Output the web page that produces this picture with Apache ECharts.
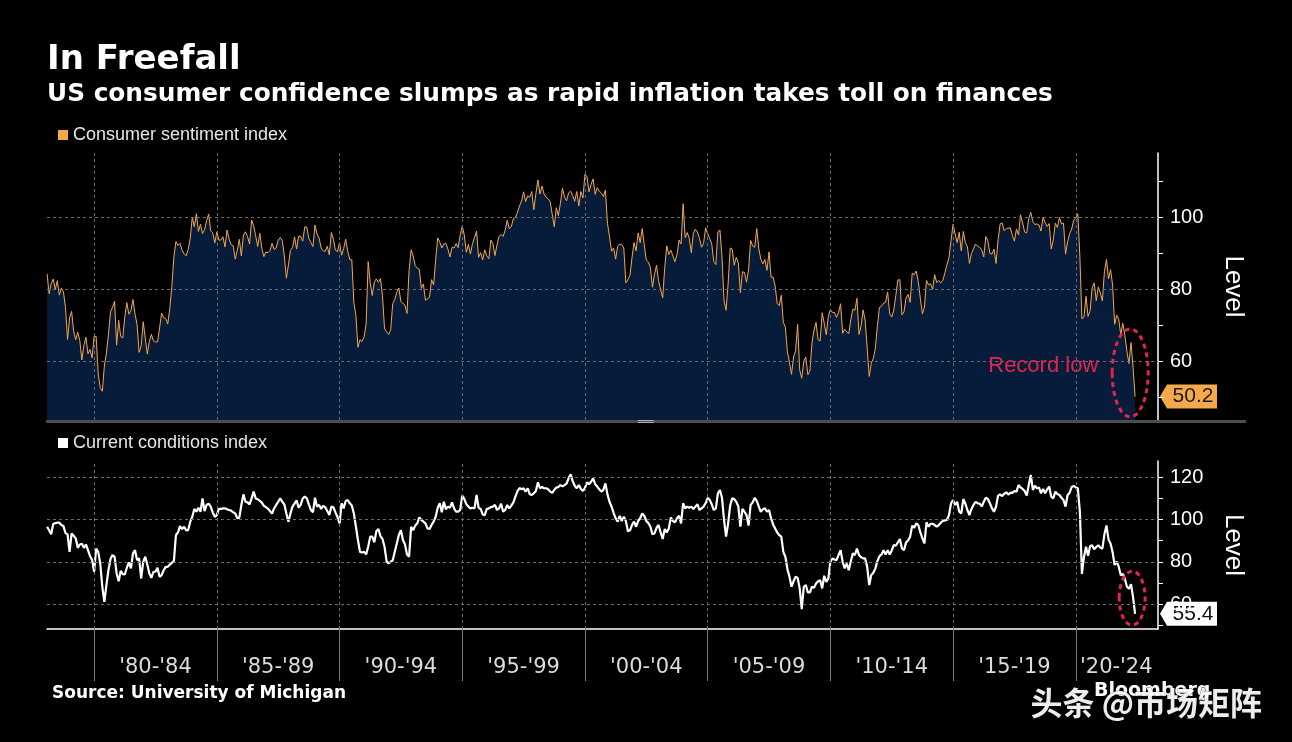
<!DOCTYPE html>
<html><head><meta charset="utf-8">
<script src="https://cdn.jsdelivr.net/npm/echarts@6/dist/echarts.min.js"></script>
<style>html,body{margin:0;padding:0;background:#000;}#c{width:1292px;height:742px;}</style>
</head><body><div id="c"></div>
<script>
// Monthly series, first value = Feb 1978, last value = Jun 2022
const startYear = 1978;
const startMonth = 2;

const sentiment = [
  84.3, 78.8, 81.6, 82.9, 80.0, 82.4, 78.4, 80.4, 79.3, 75.0, 66.1,
  72.1, 73.9, 68.4, 66.0, 68.1, 65.8, 60.4, 64.5, 66.7, 62.1, 63.3, 61.0,
  67.0, 66.9, 56.5, 52.7, 51.7, 58.7, 62.3, 67.4, 73.7, 75.0, 76.7, 64.5,
  71.4, 66.9, 66.5, 72.4, 76.3, 73.1, 74.1, 77.2, 73.1, 70.3, 62.5, 64.3,
  71.0, 66.5, 62.0, 65.5, 67.5, 65.7, 65.4, 65.4, 69.3, 73.4, 72.1, 71.9,
  70.4, 74.6, 80.8, 89.1, 93.3, 92.2, 92.8, 90.9, 89.9, 89.3, 91.1, 94.2,
  100.1, 97.4, 101.0, 96.1, 98.1, 95.5, 96.6, 99.1, 100.9, 96.3, 95.7, 92.9,
  96.0, 93.7, 93.7, 94.6, 91.8, 96.5, 94.0, 92.4, 92.1, 88.4, 90.9, 93.9,
  89.3, 95.1, 96.0, 94.7, 92.6, 99.3, 97.7, 94.9, 91.9, 95.6, 91.4, 89.1,
  90.4, 90.2, 90.8, 92.8, 91.1, 91.5, 93.7, 94.4, 93.6, 89.3, 83.1, 86.8,
  90.8, 91.6, 94.6, 91.2, 94.8, 94.7, 93.4, 97.4, 97.3, 94.1, 93.0, 91.9,
  97.9, 95.4, 94.3, 91.5, 90.7, 90.6, 92.0, 89.6, 95.8, 93.9, 90.9, 90.5,
  93.0, 89.5, 91.3, 93.9, 90.6, 88.3, 88.2, 76.4, 72.8, 63.9, 66.0, 65.5,
  66.8, 70.4, 87.7, 81.8, 78.3, 82.1, 82.9, 82.0, 83.0, 78.3, 69.1, 68.2,
  67.5, 68.8, 76.0, 77.2, 79.2, 80.4, 76.6, 76.1, 75.6, 73.3, 85.3, 91.0,
  89.3, 86.6, 85.9, 85.6, 80.3, 81.5, 77.0, 77.3, 77.9, 82.7, 81.2, 88.2,
  94.3, 93.2, 91.5, 92.6, 92.8, 91.2, 89.0, 91.7, 91.5, 92.7, 91.6, 95.1,
  97.6, 95.1, 90.3, 92.5, 89.8, 92.7, 94.4, 96.2, 88.9, 90.2, 88.2, 91.0,
  89.3, 88.5, 93.7, 92.7, 89.4, 92.4, 94.7, 95.3, 94.7, 96.5, 99.2, 96.9,
  97.4, 99.7, 100.0, 101.4, 103.2, 104.5, 107.1, 104.4, 106.0, 105.6, 107.2, 102.1,
  106.6, 110.4, 106.5, 108.7, 106.5, 105.6, 105.2, 104.4, 100.9, 97.4, 102.7, 100.5,
  103.9, 108.1, 105.7, 104.6, 106.8, 107.3, 106.0, 104.5, 107.2, 103.2, 107.2, 105.4,
  112.0, 111.3, 107.1, 109.2, 110.7, 106.4, 108.3, 107.3, 106.8, 105.8, 107.6, 98.4,
  94.7, 90.6, 91.5, 88.4, 92.0, 92.6, 92.4, 91.5, 81.8, 82.7, 83.9, 88.8,
  93.0, 90.7, 95.7, 93.0, 96.9, 92.4, 88.1, 87.6, 86.1, 80.6, 84.2, 86.7,
  82.4, 79.9, 77.6, 86.0, 92.1, 89.7, 90.9, 89.3, 87.7, 89.6, 93.7, 92.6,
  103.8, 94.4, 95.8, 94.2, 90.2, 95.6, 96.7, 95.9, 94.2, 91.7, 92.8, 97.1,
  95.5, 94.1, 92.6, 87.7, 86.9, 96.0, 96.5, 89.1, 76.9, 74.2, 81.6, 91.5,
  91.2, 86.7, 88.9, 87.4, 79.1, 84.9, 84.7, 82.0, 85.4, 93.6, 92.1, 91.7,
  96.9, 91.3, 88.4, 87.1, 88.3, 85.3, 90.4, 83.4, 83.4, 80.9, 76.1, 75.5,
  78.4, 70.8, 69.5, 62.6, 59.8, 56.4, 61.2, 63.0, 70.3, 57.6, 55.3, 60.1,
  61.2, 56.3, 57.3, 65.1, 68.7, 70.8, 66.0, 65.7, 73.5, 70.6, 67.4, 72.5,
  74.4, 73.6, 73.6, 72.2, 73.6, 76.0, 67.8, 68.9, 68.2, 67.7, 71.6, 74.5,
  74.2, 77.5, 67.5, 69.8, 74.3, 71.5, 63.7, 55.8, 59.5, 60.8, 63.7, 69.9,
  75.0, 75.3, 76.2, 76.4, 79.3, 73.2, 72.3, 74.3, 78.3, 82.6, 82.7, 72.9,
  73.8, 77.6, 78.6, 76.4, 84.5, 84.1, 85.1, 82.1, 77.5, 73.2, 75.1, 82.5,
  81.2, 81.6, 80.0, 84.1, 81.9, 82.5, 81.8, 82.5, 84.6, 86.9, 88.8, 93.6,
  98.1, 95.4, 93.0, 95.9, 90.7, 96.1, 93.1, 91.9, 87.2, 90.0, 91.3, 92.6,
  92.0, 91.7, 91.0, 89.0, 94.7, 93.5, 90.0, 89.8, 91.2, 87.2, 93.8, 98.2,
  98.5, 96.3, 96.9, 97.0, 97.1, 95.0, 93.4, 96.8, 95.1, 100.7, 98.5, 95.9,
  95.7, 99.7, 101.4, 98.8, 98.0, 98.2, 97.9, 96.2, 100.1, 98.6, 97.5, 98.3,
  91.2, 93.8, 98.4, 97.2, 100.0, 98.2, 98.4, 89.8, 93.2, 95.5, 96.8, 99.3,
  99.8, 101.0, 89.1, 71.8, 72.3, 78.1, 72.5, 74.1, 80.4, 81.8, 76.9, 80.7,
  79.0, 76.8, 84.9, 88.3, 82.9, 85.5, 81.2, 70.3, 72.8, 71.7, 67.4, 70.6,
  67.2, 62.8, 59.4, 65.2, 58.4, 50.2
];

const currentConditions = [
  96.6, 94.9, 93.0, 97.9, 98.3, 98.5, 98.5, 97.4, 96.9, 93.6, 93.0,
  84.7, 93.4, 92.3, 91.1, 86.6, 88.2, 88.5, 86.6, 88.2, 85.5, 82.7, 80.8,
  75.3, 86.2, 84.7, 79.2, 68.2, 61.0, 69.0, 76.0, 81.3, 83.2, 82.4, 74.5,
  70.8, 75.7, 74.2, 74.0, 77.2, 79.7, 76.9, 84.0, 85.5, 80.8, 81.6, 72.1,
  80.0, 82.4, 78.7, 74.5, 72.4, 75.3, 75.3, 77.2, 72.9, 73.7, 76.0, 77.6,
  77.6, 78.7, 79.5, 80.3, 92.7, 93.9, 96.9, 95.5, 96.6, 94.9, 95.0, 99.0,
  101.3, 105.0, 103.7, 105.6, 103.7, 110.0, 104.0, 106.9, 107.5, 106.1, 103.4, 101.3,
  102.1, 105.0, 105.0, 105.3, 105.3, 104.8, 104.5, 104.2, 103.4, 102.9, 100.6, 100.9,
  106.9, 111.9, 108.4, 108.1, 107.2, 110.0, 113.2, 110.0, 109.6, 108.8, 108.0, 106.5,
  105.9, 105.1, 104.0, 102.8, 105.3, 106.9, 108.4, 110.0, 108.4, 107.2, 102.9, 99.0,
  102.9, 106.1, 107.5, 109.1, 105.6, 106.9, 110.0, 110.8, 110.0, 107.2, 104.5, 103.4,
  110.3, 106.1, 106.9, 105.0, 106.5, 105.8, 104.0, 102.1, 106.1, 105.8, 103.4, 101.2,
  98.2, 107.7, 105.3, 108.8, 109.2, 107.7, 106.6, 102.9, 96.6, 90.3, 84.7, 84.4,
  84.7, 83.5, 87.1, 91.9, 91.9, 89.2, 94.5, 95.5, 92.2, 90.8, 87.1, 80.3,
  79.2, 80.0, 80.6, 84.7, 88.7, 92.7, 95.0, 90.3, 88.2, 83.5, 82.4, 96.6,
  95.0, 97.1, 98.2, 101.0, 99.8, 99.0, 98.2, 95.8, 95.5, 97.4, 99.0, 101.3,
  105.6, 107.7, 103.4, 108.4, 104.8, 106.1, 105.6, 108.1, 105.3, 103.7, 103.7, 104.5,
  111.3, 109.7, 107.3, 106.1, 105.3, 105.6, 105.3, 111.6, 105.6, 105.0, 102.4, 102.1,
  105.0, 105.3, 105.9, 106.1, 106.9, 104.5, 105.3, 107.5, 103.7, 104.5, 106.9, 105.3,
  106.6, 108.1, 110.8, 113.5, 114.9, 114.3, 114.8, 113.2, 114.8, 112.0, 111.6, 112.4,
  113.5, 117.6, 114.8, 115.4, 114.8, 114.8, 114.3, 113.2, 112.6, 114.1, 115.1, 115.4,
  116.3, 115.7, 116.3, 117.0, 119.5, 121.4, 118.2, 116.0, 114.8, 116.3, 114.5, 113.5,
  115.0, 117.6, 116.7, 117.9, 119.5, 116.7, 115.6, 114.3, 113.2, 114.0, 117.1, 111.9,
  108.4, 106.1, 103.2, 100.6, 99.0, 101.7, 99.3, 101.3, 99.3, 94.5, 94.9, 97.4,
  99.0, 96.6, 99.3, 100.6, 102.9, 101.8, 99.3, 98.3, 96.6, 93.1, 93.4, 96.1,
  97.4, 93.9, 90.8, 95.5, 93.9, 95.8, 101.0, 99.3, 98.7, 100.6, 101.8, 98.2,
  107.7, 105.3, 106.1, 105.6, 106.1, 105.0, 106.1, 107.2, 104.5, 105.3, 106.1, 107.7,
  110.3, 109.2, 107.2, 104.5, 105.3, 112.4, 114.0, 110.3, 99.8, 91.9, 98.2, 106.6,
  110.0, 109.7, 108.4, 106.1, 96.6, 105.0, 103.7, 102.1, 97.1, 106.9, 108.1, 110.3,
  108.8, 106.1, 103.7, 104.8, 105.3, 103.7, 104.5, 100.6, 97.7, 95.8, 93.9, 92.6,
  91.9, 84.7, 82.4, 76.5, 72.9, 68.2, 70.8, 72.9, 72.4, 67.4, 57.6, 68.2,
  69.0, 65.5, 65.5, 68.2, 67.7, 69.7, 70.8, 71.3, 67.4, 73.4, 70.5, 72.1,
  80.0, 81.6, 81.1, 80.8, 83.2, 85.5, 80.0, 76.9, 79.2, 76.0, 80.3, 84.0,
  83.2, 86.3, 83.2, 82.2, 81.6, 81.6, 77.6, 69.0, 73.7, 74.8, 76.9, 80.3,
  82.7, 83.5, 85.5, 83.5, 85.5, 83.5, 85.4, 87.9, 87.6, 89.2, 90.8, 86.3,
  85.5, 89.2, 90.1, 91.9, 97.1, 96.1, 98.2, 97.4, 93.9, 91.1, 88.7, 98.7,
  96.6, 98.0, 98.0, 97.4, 96.6, 97.4, 98.5, 99.3, 99.6, 99.8, 102.1, 107.7,
  109.2, 106.9, 108.4, 103.7, 102.9, 109.7, 107.5, 104.5, 102.1, 105.0, 106.9, 108.4,
  107.7, 107.5, 106.2, 108.4, 110.3, 109.7, 107.7, 105.3, 103.7, 106.1, 111.3, 111.9,
  111.1, 112.2, 112.9, 111.8, 112.7, 112.6, 113.5, 113.2, 116.3, 115.2, 114.5, 113.5,
  111.3, 116.3, 121.1, 114.0, 116.0, 114.8, 115.2, 112.4, 114.5, 112.4, 114.3, 115.6,
  110.8, 110.0, 113.2, 112.1, 111.6, 110.3, 109.2, 106.1, 111.6, 112.7, 115.4, 115.9,
  115.2, 114.8, 103.7, 74.3, 82.3, 87.1, 82.8, 87.5, 87.8, 85.9, 87.0, 87.8,
  86.7, 86.2, 93.0, 97.2, 90.6, 88.6, 84.5, 78.5, 80.1, 77.7, 73.6, 74.2,
  72.0, 68.2, 67.2, 69.4, 63.3, 55.4
];

const gridYears = [1980, 1985, 1990, 1995, 2000, 2005, 2010, 2015, 2020];
const periodLabels = ["'80-'84", "'85-'89", "'90-'94", "'95-'99", "'00-'04", "'05-'09", "'10-'14", "'15-'19", "'20-'24"];
const periodLabelAt = [1982.5, 1987.5, 1992.5, 1997.5, 2002.5, 2007.5, 2012.5, 2017.5, 2021.65];
const topTicks = [50, 60, 70, 80, 90, 100, 110];
const topLabels = [60, 80, 100];
const bottomTicks = [50, 60, 70, 80, 90, 100, 110, 120];
const bottomLabels = [60, 80, 100, 120];

const X_MIN = 1978.08, X_MAX = 2023.35;
const TOP_MIN = 43.7, TOP_MAX = 117.9;
const BOT_MIN = 48.2, BOT_MAX = 127.7;

const xOf = i => startYear + (startMonth - 1 + i) / 12;
const sentData = sentiment.map((v, i) => [xOf(i), v]);
const ccData = currentConditions.map((v, i) => [xOf(i), v]);

const ORANGE = '#f4a84b';
const NAVY = '#061c3a';
const GRID_LINE = { type: [3, 3], color: '#6b6b6b', width: 1 };

function gridMarks(hVals) {
  return {
    silent: true, symbol: ['none', 'none'], animation: false,
    label: { show: false }, lineStyle: GRID_LINE, emphasis: { disabled: true },
    data: gridYears.map(v => ({ xAxis: v })).concat(hVals.map(v => ({ yAxis: v })))
  };
}

const chart = echarts.init(document.getElementById('c'), null, { renderer: 'canvas' });
const labelFont = 'Liberation Sans, Arial, sans-serif';

chart.setOption({
  backgroundColor: '#000',
  animation: false,
  grid: [
    { left: 47, right: 134, top: 153, height: 267 },
    { left: 47, right: 134, top: 461, height: 168 }
  ],
  legend: [
    { data: ['Consumer sentiment index'], left: 53, top: 121, icon: 'rect', itemWidth: 10, itemHeight: 10,
      selectedMode: false, textStyle: { color: '#e6e6e6', fontSize: 18, fontFamily: labelFont } },
    { data: ['Current conditions index'], left: 53, top: 429, icon: 'rect', itemWidth: 10, itemHeight: 10,
      selectedMode: false, textStyle: { color: '#e6e6e6', fontSize: 18, fontFamily: labelFont } }
  ],
  xAxis: [
    { gridIndex: 0, type: 'value', min: X_MIN, max: X_MAX, show: false, splitLine: { show: false } },
    { gridIndex: 1, type: 'value', min: X_MIN, max: X_MAX,
      axisLine: { show: true, onZero: false, lineStyle: { color: '#fff', width: 1.5 } },
      axisTick: { show: true, customValues: gridYears, length: 52, lineStyle: { color: '#7a7a7a', width: 1 } },
      axisLabel: { show: true, customValues: periodLabelAt, margin: 28, color: '#dcdcdc', fontSize: 21,
        fontFamily: 'DejaVu Sans, sans-serif',
        formatter: v => periodLabels[gridYears.indexOf(Math.floor(v / 5) * 5)] || '' },
      splitLine: { show: false } }
  ],
  yAxis: [
    { gridIndex: 0, type: 'value', position: 'right', min: TOP_MIN, max: TOP_MAX,
      axisLine: { show: true, lineStyle: { color: '#fff', width: 1.5 } },
      axisTick: { show: true, customValues: topTicks, length: 5, lineStyle: { color: '#fff' } },
      axisLabel: { show: true, customValues: topLabels, color: '#fff', fontSize: 20, margin: 12, fontFamily: labelFont },
      splitLine: { show: false },
      name: 'Level', nameLocation: 'middle', nameRotate: -90, nameGap: 62,
      nameTextStyle: { color: '#fff', fontSize: 26, fontFamily: labelFont } },
    { gridIndex: 1, type: 'value', position: 'right', min: BOT_MIN, max: BOT_MAX,
      axisLine: { show: true, lineStyle: { color: '#fff', width: 1.5 } },
      axisTick: { show: true, customValues: bottomTicks, length: 5, lineStyle: { color: '#fff' } },
      axisLabel: { show: true, customValues: bottomLabels, color: '#fff', fontSize: 20, margin: 12, fontFamily: labelFont },
      splitLine: { show: false },
      name: 'Level', nameLocation: 'middle', nameRotate: -90, nameGap: 62,
      nameTextStyle: { color: '#fff', fontSize: 26, fontFamily: labelFont } }
  ],
  series: [
    { name: 'Consumer sentiment index', type: 'line', xAxisIndex: 0, yAxisIndex: 0, data: sentData,
      showSymbol: false, color: ORANGE, lineStyle: { color: ORANGE, width: 1 },
      areaStyle: { color: NAVY, opacity: 1, origin: 'start' }, z: 2,
      markLine: gridMarks(topLabels) },
    { name: 'Current conditions index', type: 'line', xAxisIndex: 1, yAxisIndex: 1, data: ccData,
      showSymbol: false, color: '#ffffff', lineStyle: { color: '#ffffff', width: 2.2 }, z: 3,
      markLine: gridMarks(bottomLabels) }
  ]
});

// Annotations placed through the chart's own scales
const lastT = xOf(sentiment.length - 1);
const topTag = chart.convertToPixel({ gridIndex: 0 }, [X_MAX, sentiment[sentiment.length - 1]]);
const botTag = chart.convertToPixel({ gridIndex: 1 }, [X_MAX, currentConditions[currentConditions.length - 1]]);
const topEll = chart.convertToPixel({ gridIndex: 0 }, [lastT - 0.2, 56.8]);
const botEll = chart.convertToPixel({ gridIndex: 1 }, [lastT - 0.12, 62.8]);
const recLbl = chart.convertToPixel({ gridIndex: 0 }, [lastT - 1.5, 59]);
const RED = '#e0264e';

function tag(p, text, fill, txtColor) {
  const x = p[0] + 2, y = p[1];
  return {
    type: 'group', z: 100, children: [
      { type: 'polygon', shape: { points: [[x, y], [x + 7, y - 12], [x + 57, y - 12], [x + 57, y + 12], [x + 7, y + 12]] },
        style: { fill: fill } },
      { type: 'text', x: x + 33, y: y, style: { text: text, fill: txtColor, fontSize: 21, fontFamily: labelFont,
        align: 'center', verticalAlign: 'middle' } }
    ]
  };
}

chart.setOption({
  graphic: [
    { type: 'text', left: 47, top: 43, style: { text: 'In Freefall', fill: '#fff', fontSize: 34, fontWeight: 'bold', fontFamily: 'DejaVu Sans, sans-serif' } },
    { type: 'text', left: 47, top: 82, style: { text: 'US consumer confidence slumps as rapid inflation takes toll on finances', fill: '#fff', fontSize: 24.8, fontWeight: 'bold', fontFamily: 'DejaVu Sans, sans-serif' } },
    { type: 'rect', shape: { x: 46, y: 420, width: 1200, height: 3 }, style: { fill: '#4d4d4d' }, z: 50 },
    { type: 'rect', shape: { x: 638, y: 420, width: 16, height: 1 }, style: { fill: '#b0b0b0' }, z: 51 },
    { type: 'rect', shape: { x: 638, y: 422, width: 16, height: 1 }, style: { fill: '#b0b0b0' }, z: 51 },
    { type: 'text', left: 52, top: 685, style: { text: 'Source: University of Michigan', fill: '#fff', fontSize: 17, fontWeight: 'bold', fontFamily: 'DejaVu Sans, sans-serif' } },
    { type: 'text', left: 1094, top: 682, style: { text: 'Bloomberg', fill: '#fff', fontSize: 19, fontWeight: 'bold', fontFamily: 'DejaVu Sans, sans-serif' } },
    { type: 'text', left: 1030, top: 686, z: 60, style: { text: '头条 @市场矩阵', fill: 'rgba(255,255,255,0.93)', fontSize: 32, fontWeight: 'bold', fontFamily: 'Noto Sans CJK SC, sans-serif', stroke: 'rgba(0,0,0,0.45)', lineWidth: 1 } },
    { type: 'ellipse', z: 90, shape: { cx: topEll[0], cy: topEll[1], rx: 18, ry: 44 }, style: { fill: 'none', stroke: RED, lineWidth: 3, lineDash: [5, 4] } },
    { type: 'ellipse', z: 90, shape: { cx: botEll[0], cy: botEll[1], rx: 13, ry: 27 }, style: { fill: 'none', stroke: RED, lineWidth: 3, lineDash: [5, 4] } },
    { type: 'text', z: 90, x: recLbl[0], y: recLbl[1] + 1, style: { text: 'Record low', fill: RED, fontSize: 22, fontFamily: labelFont, align: 'right', verticalAlign: 'middle' } },
    tag(topTag, String(sentiment[sentiment.length - 1]), '#f5a94a', '#1a1a1a'),
    tag(botTag, String(currentConditions[currentConditions.length - 1]), '#ffffff', '#111')
  ]
});
</script></body></html>
